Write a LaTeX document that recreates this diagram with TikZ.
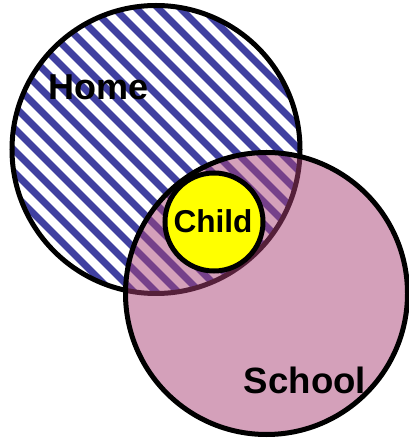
\documentclass[tikz,border=0pt]{standalone}
\usepackage{fontspec}
\setmainfont{Liberation Sans}
\definecolor{stripeblue}{RGB}{64,64,160}
\definecolor{schoolpink}{RGB}{170,65,117}
\definecolor{childyellow}{RGB}{255,255,0}

\begin{document}
\begin{tikzpicture}[x=0.5pt,y=0.5pt]
        \useasboundingbox (0,0) rectangle (408,439);
        \begin{scope}
            \clip (156,289.5) circle (144);
            \foreach \k in {-7,...,12}
                \draw[stripeblue, line width=3.5pt] ({391+22*\k-450},450) -- ({391+22*\k},0);
        \end{scope}
        \draw[line width=2.5pt] (156,289.5) circle (144);
        \draw[line width=2.5pt, fill=schoolpink, fill opacity=0.5] (266.5,145.5) circle (141);
        \draw[line width=2.5pt, fill=childyellow] (214,217) circle (49);
        \node[font=\bfseries\fontsize{18}{20}\selectfont, anchor=base] (home) at (99,339) {Home};
        \node[font=\bfseries\fontsize{18.3}{20}\selectfont, anchor=base] (school) at (305,46) {School};
        \node[font=\bfseries\fontsize{15.8}{18}\selectfont, anchor=base] (child) at (213,206) {Child};
    \end{tikzpicture}
\end{document}
